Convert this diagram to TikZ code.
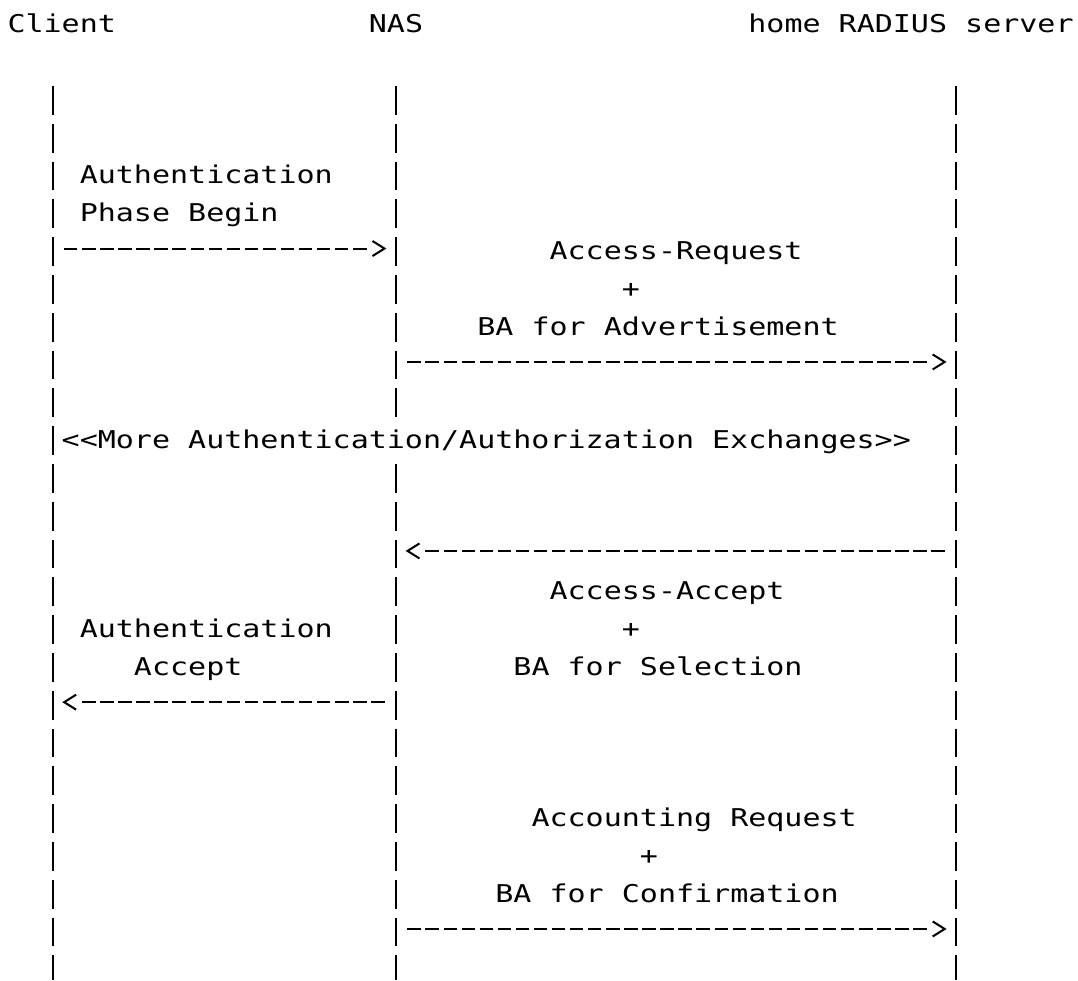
\documentclass[tikz,border=0pt]{standalone}
\usepackage{fontspec}
\setmonofont[FakeStretch=1.225]{DejaVu Sans Mono}
\tikzset{
    TX/.style ={anchor=base west, inner sep=0pt, outer sep=0pt, font=\ttfamily\fontsize{24.5pt}{24.5pt}\selectfont},
    LL/.style ={line width=2pt, dash pattern=on 28.7pt off 9.1pt},
    MS/.style ={line width=2pt, dash pattern=on 13.4pt off 4.67pt, shorten <=11.36pt, shorten >=29.44pt},
    HD/.style ={line width=2pt},
    AR/.pic ={\draw[HD] (-12pt,7.5pt) -- (0,0) -- (-12pt,-7.5pt);},
    AL/.pic ={\draw[HD] (12pt,7.5pt) -- (0,0) -- (12pt,-7.5pt);}}

\begin{document}
\begin{tikzpicture}[x=18.07pt,y=-37.8pt]
        \useasboundingbox[fill=white] (-7.5pt,32.7pt) rectangle (1070.5pt,-947.3pt);
        \node[TX] (C) at (0,0) {Client};
        \node[TX] (N) at (20,0) {NAS};
        \node[TX] (S) at (41,0) {home RADIUS server};
        \coordinate (C1) at (2.5,1.41);
        \coordinate (C2) at (2.5,25.06);
        \coordinate (N1) at (21.5,1.41);
        \coordinate (N2) at (21.5,10.17);
        \coordinate (N3) at (21.5,11.41);
        \coordinate (N4) at (21.5,25.06);
        \coordinate (S1) at (52.5,1.41);
        \coordinate (S2) at (52.5,25.06);
        \draw[LL] (C1) -- (C2);
        \draw[LL] (N1) -- (N2);
        \draw[LL] (N3) -- (N4);
        \draw[LL] (S1) -- (S2);
        \node[TX] (t1) at (4,4) {Authentication};
        \node[TX] (t2) at (4,5) {Phase Begin};
        \node[TX] (t3) at (30,6) {Access-Request};
        \node[TX] (t4) at (34,7) {+};
        \node[TX] (t5) at (26,8) {BA for Advertisement};
        \node[TX] (t6) at (3,11) {<<More Authentication/Authorization Exchanges>>};
        \node[TX] (t7) at (30,15) {Access-Accept};
        \node[TX] (t8) at (4,16) {Authentication};
        \node[TX] (t9) at (34,16) {+};
        \node[TX] (t10) at (7,17) {Accept};
        \node[TX] (t11) at (28,17) {BA for Selection};
        \node[TX] (t12) at (29,21) {Accounting Request};
        \node[TX] (t13) at (35,22) {+};
        \node[TX] (t14) at (27,23) {BA for Confirmation};
        \coordinate (c6) at (2.5,5.71);
        \coordinate (n6) at (21.5,5.71);
        \coordinate (n9) at (21.5,8.71);
        \coordinate (s9) at (52.5,8.71);
        \coordinate (s14) at (52.5,13.71);
        \coordinate (n14) at (21.5,13.71);
        \coordinate (n18) at (21.5,17.71);
        \coordinate (c18) at (2.5,17.71);
        \coordinate (n24) at (21.5,23.71);
        \coordinate (s24) at (52.5,23.71);
        \draw[MS] (c6) -- (n6);
        \pic at ([xshift=-11.5pt]n6) {AR};
        \draw[MS] (n9) -- (s9);
        \pic at ([xshift=-11.5pt]s9) {AR};
        \draw[MS] (s14) -- (n14);
        \pic at ([xshift=11.5pt]n14) {AL};
        \draw[MS] (n18) -- (c18);
        \pic at ([xshift=11.5pt]c18) {AL};
        \draw[MS] (n24) -- (s24);
        \pic at ([xshift=-11.5pt]s24) {AR};
    \end{tikzpicture}
\end{document}
